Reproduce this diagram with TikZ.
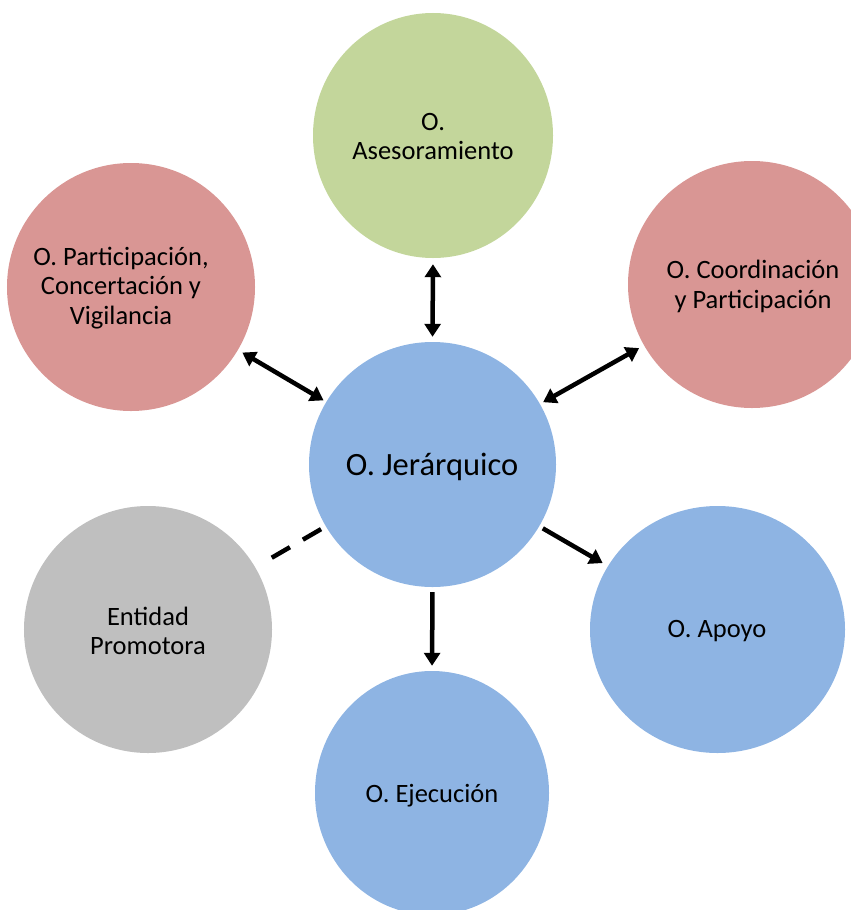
\documentclass[tikz,border=0pt]{standalone}
\usepackage{fontspec}
\setmainfont{Carlito}
\usetikzlibrary{arrows.meta,shapes.geometric}
\definecolor{cgreen}{HTML}{C3D69B}
\definecolor{cred}{HTML}{D99694}
\definecolor{cblue}{HTML}{8EB4E3}
\definecolor{cgray}{HTML}{BFBFBF}
\tikzset{
  circ/.style={ellipse, inner sep=0pt, draw=none},
  lbl/.style={align=center, inner sep=0pt, text=black, font=\fontsize{26.5bp}{29.5bp}\selectfont},
  big/.style={inner sep=0pt, text=black, font=\fontsize{32.5bp}{38bp}\selectfont},
  conn/.style={line width=4.5bp, draw=black},
  >={Triangle[length=13bp,width=16bp]}
}
\begin{document}
\begin{tikzpicture}[x=1bp,y=-1bp]
\useasboundingbox (0,0) rectangle (851,910);
% circles
\node[circ, fill=cgreen, minimum width=240bp, minimum height=245bp] (ase) at (433,135.5) {};
\node[circ, fill=cred,   minimum width=248bp, minimum height=248bp] (par) at (131,287) {};
\node[circ, fill=cred,   minimum width=248bp, minimum height=247bp] (coo) at (752,284.5) {};
\node[circ, fill=cblue,  minimum width=247bp, minimum height=245bp] (jer) at (432.5,464.5) {};
\node[circ, fill=cgray,  minimum width=248bp, minimum height=247bp] (ent) at (148,629.5) {};
\node[circ, fill=cblue,  minimum width=255bp, minimum height=247bp] (apo) at (717.5,629.5) {};
\node[circ, fill=cblue,  minimum width=234bp, minimum height=244bp] (eje) at (432,793) {};
% labels
\node[lbl] (ase-t) at (433,136.5) {O.\\Asesoramiento};
\node[lbl] (par-t) at (121,288) {O. Participación,\\Concertación y\\Vigilancia};
\node[lbl] (coo-t) at (753,286.5) {O. Coordinación\\y Participación};
\node[big, anchor=base] (jer-t) at (432,475) {O. Jerárquico};
\node[lbl] (ent-t) at (148,631) {Entidad\\Promotora};
\node[lbl, anchor=base] (apo-t) at (717,637) {O. Apoyo};
\node[lbl, anchor=base] (eje-t) at (432,802) {O. Ejecución};
% connectors
\draw[conn, <->, shorten <=6bp, shorten >=5bp] (ase.south) -- (jer.north);
\draw[conn, <->, shorten <=5bp, shorten >=3bp] (par) -- (jer);
\draw[conn, <->, shorten <=5.5bp, shorten >=3.5bp] (coo) -- (jer);
\draw[conn, ->, shorten <=4bp, shorten >=6bp] (jer) -- (apo);
\draw[conn, ->, shorten <=5bp, shorten >=5bp] (jer.south) -- (eje.north);
\draw[conn, line cap=butt, dash pattern=on 21bp off 15bp, shorten <=19bp, shorten >=2.5bp] (ent) -- (jer);
\end{tikzpicture}
\end{document}
